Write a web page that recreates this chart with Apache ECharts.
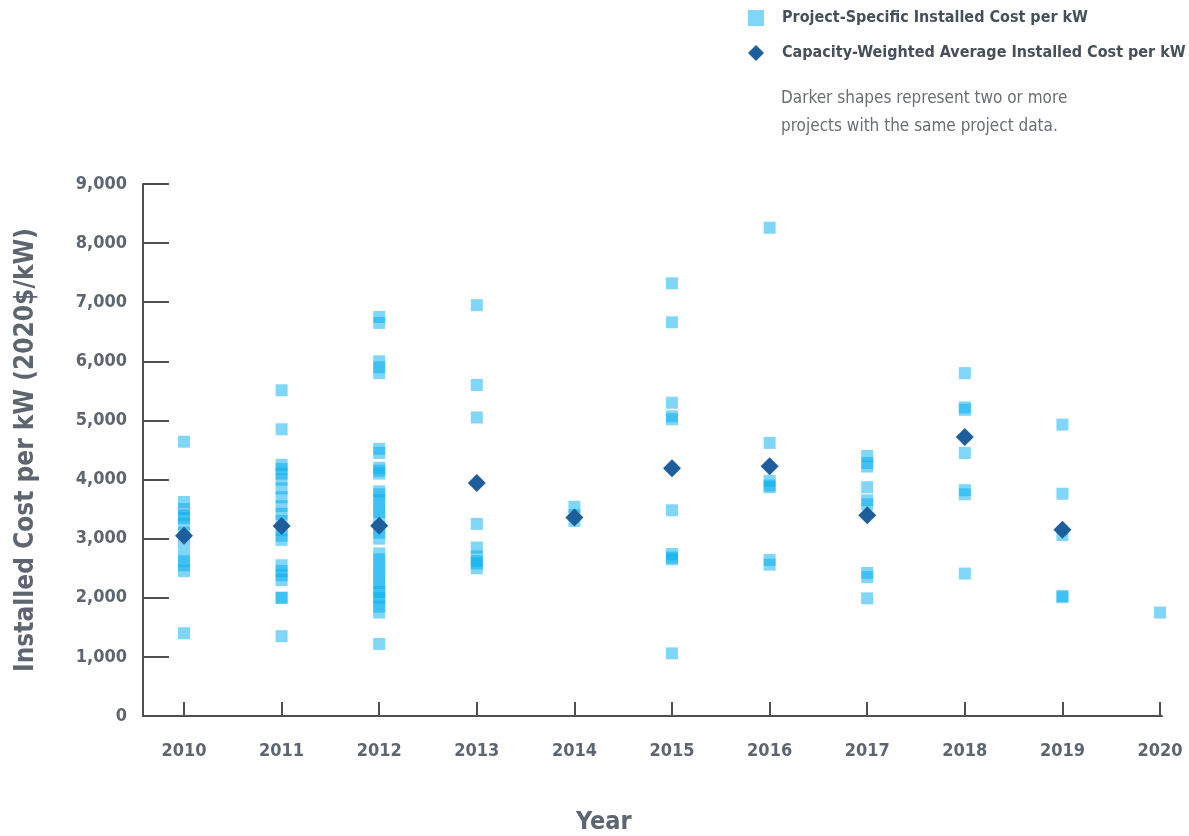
<!DOCTYPE html>
<html><head><meta charset="utf-8">
<script src="https://cdn.jsdelivr.net/npm/echarts@6/dist/echarts.min.js"></script>
<style>html,body{margin:0;padding:0;background:#fff}#c{width:1189px;height:836px}</style>
</head><body><div id="c"></div>
<script>
// ---- data ----
const years = [2010, 2011, 2012, 2013, 2014, 2015, 2016, 2017, 2018, 2019, 2020];
const cost2010 = [4640, 3620, 3500, 3400, 3350, 3250, 3100, 2950, 2750, 2620, 2550, 2450, 1400];
const cost2011 = [5510, 4850, 4250, 4180, 4100, 4000, 3850, 3700, 3550, 3420, 3300, 3150, 3050, 2980, 2550, 2450, 2380, 2300, 2000, 2000, 1350];
const cost2012 = [6750, 6650, 6000, 5900, 5800, 4520, 4450, 4200, 4150, 4100, 3800, 3750, 3650, 3550, 3450, 3350, 3200, 3100, 3000, 2750, 2650, 2550, 2450, 2350, 2250, 2150, 2100, 2000, 1950, 1850, 1750, 1220];
const cost2013 = [6950, 5600, 5050, 3250, 2850, 2700, 2620, 2580, 2500];
const cost2014 = [3540, 3400, 3300];
const cost2015 = [7320, 6660, 5300, 5070, 5020, 3480, 2740, 2680, 2650, 1060];
const cost2016 = [8260, 4620, 3980, 3900, 3870, 2640, 2560];
const cost2017 = [4400, 4280, 4220, 3870, 3650, 3580, 2420, 2350, 1990];
const cost2018 = [5800, 5220, 5180, 4450, 3820, 3750, 2410];
const cost2019 = [4930, 3760, 3060, 2030, 2010];
const cost2020 = [1750];
const projectCosts = [cost2010, cost2011, cost2012, cost2013, cost2014, cost2015, cost2016, cost2017, cost2018, cost2019, cost2020];
const avgYears = [2010, 2011, 2012, 2013, 2014, 2015, 2016, 2017, 2018, 2019];
const avgCost = [3050, 3215, 3220, 3940, 3360, 4190, 4225, 3395, 4720, 3150];
const seriesNames = ['Project-Specific Installed Cost per kW', 'Capacity-Weighted Average Installed Cost per kW'];
const noteLines = ['Darker shapes represent two or more', 'projects with the same project data.'];
const yTitle = 'Installed Cost per kW (2020$/kW)';
const xTitle = 'Year';

// ---- chart ----
const FONT = '"Liberation Sans Narrow","DejaVu Sans Condensed","Roboto Condensed",sans-serif';
const AXIS = '#4d4f53';
const LABEL = '#5d6670';

const projectData = [];
years.forEach((y, i) => projectCosts[i].forEach(v => projectData.push([y, v])));
const avgData = avgYears.map((y, i) => [y, avgCost[i]]);

const chart = echarts.init(document.getElementById('c'), null, {renderer: 'canvas'});
chart.setOption({
  animation: false,
  backgroundColor: '#ffffff',
  textStyle: {fontFamily: FONT},
  grid: {left: 143, right: 27, top: 184, bottom: 120, containLabel: false},
  legend: {
    orient: 'vertical', left: 743, top: 4, itemWidth: 16, itemHeight: 16, itemGap: 17,
    data: [{name: seriesNames[0], icon: 'rect'}, {name: seriesNames[1], icon: 'diamond'}],
    textStyle: {fontFamily: FONT, fontWeight: 'bold', fontSize: 16, lineHeight: 18, color: '#46505b', padding: [0, 0, 0, 13]},
    selectedMode: false
  },
  xAxis: {
    type: 'value', min: 2009.58, max: 2020.02,
    axisLine: {show: true, onZero: false, lineStyle: {color: AXIS, width: 2}},
    axisTick: {show: true, inside: true, length: 14, customValues: years, lineStyle: {color: AXIS, width: 2}},
    axisLabel: {customValues: years, margin: 26, fontFamily: FONT, fontWeight: 'bold', fontSize: 18, color: LABEL, formatter: v => String(v)},
    splitLine: {show: false}
  },
  yAxis: {
    type: 'value', min: 0, max: 9000, interval: 1000,
    name: yTitle, nameLocation: 'middle', nameGap: 104, nameRotate: 90,
    nameTextStyle: {fontFamily: FONT, fontWeight: 'bold', fontSize: 26, color: LABEL},
    axisLine: {show: true, lineStyle: {color: AXIS, width: 2}},
    axisTick: {show: true, inside: true, length: 26, lineStyle: {color: AXIS, width: 2}},
    axisLabel: {margin: 16, fontFamily: FONT, fontWeight: 'bold', fontSize: 18, color: LABEL,
      formatter: v => v.toLocaleString('en-US')},
    splitLine: {show: false}
  },
  graphic: [
    {type: 'text', left: 781, top: 90, style: {text: noteLines[0], font: '17px ' + FONT, fill: '#6a6e73'}},
    {type: 'text', left: 781, top: 118, style: {text: noteLines[1], font: '17px ' + FONT, fill: '#6a6e73'}},
    {type: 'text', left: 576, top: 810, style: {text: xTitle, font: 'bold 25px ' + FONT, fill: LABEL}}
  ],
  series: [
    {name: seriesNames[0], type: 'scatter', symbol: 'rect', symbolSize: 12, z: 2,
      itemStyle: {color: '#00aeef', opacity: 0.5}, data: projectData},
    {name: seriesNames[1], type: 'scatter', symbol: 'diamond', symbolSize: 18, z: 3,
      itemStyle: {color: '#1f5e9d', opacity: 1}, data: avgData}
  ]
});
</script></body></html>
